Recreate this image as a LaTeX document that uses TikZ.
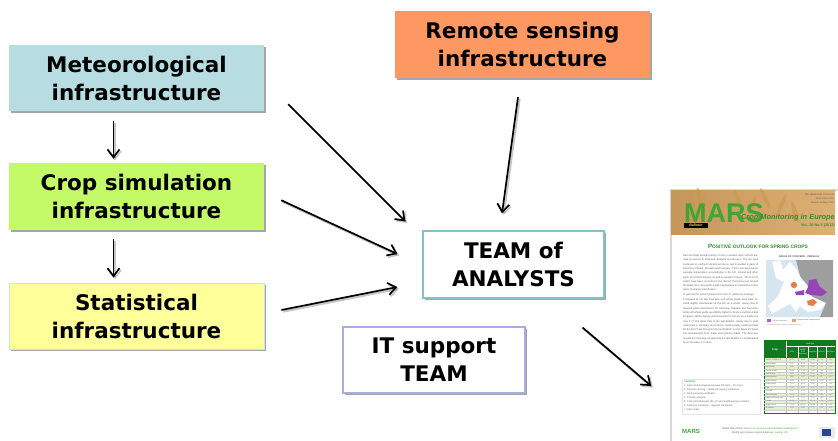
\documentclass[tikz,border=0pt]{standalone}
\usepackage{fontspec}
\setmainfont{Liberation Sans}
\newfontfamily\boxfont{DejaVu Sans}[BoldFont={DejaVu Sans Bold}]
\usetikzlibrary{arrows.meta,shadows,calc}
\definecolor{magreen}{HTML}{3FA535}
\definecolor{tabgreen}{HTML}{0F7A1E}
\tikzset{
  infobox/.style={rectangle,inner sep=0pt,align=center,text=black,
    font=\boxfont\bfseries\fontsize{21.5}{28}\selectfont,
    drop shadow={shadow xshift=2pt,shadow yshift=-2pt,fill=black,opacity=.35}},
  flow/.style={draw=black,line width=1.7pt,-{Straight Barb[length=8pt,width=12pt,line width=1.7pt]},
    preaction={draw=black,opacity=.22,line width=2.2pt,transform canvas={shift={(1.6pt,-1.6pt)}}}},
  tiny/.style={inner sep=0pt,text=black!62,font=\fontsize{2.6}{4.3}\selectfont},
  cell/.style={inner sep=0pt,text=black!60,font=\fontsize{1.9}{2.2}\selectfont},
}
\begin{document}
\begin{tikzpicture}[x=1pt,y=-1pt]
\useasboundingbox (0,0) rectangle (838,440);
% --- main boxes
\node[infobox,fill=cyan!8!black!0,fill={rgb,255:red,183;green,221;blue,227},minimum width=255pt,minimum height=66pt] (met) at (136.5,78) {Meteorological\\infrastructure};
\node[infobox,fill={rgb,255:red,196;green,250;blue,104},minimum width=255pt,minimum height=67pt] (crop) at (136.5,196.5) {Crop simulation\\infrastructure};
\node[infobox,fill={rgb,255:red,255;green,255;blue,153},draw={rgb,255:red,205;green,225;blue,235},line width=.8pt,minimum width=255pt,minimum height=66pt] (stat) at (136.5,316) {Statistical\\infrastructure};
\node[infobox,fill={rgb,255:red,253;green,152;blue,98},minimum width=255pt,minimum height=67pt] (remote) at (522.5,44.5) {Remote sensing\\infrastructure};
\node[infobox,fill=white,draw={rgb,255:red,130;green,195;blue,200},line width=1.1pt,minimum width=181pt,minimum height=67pt] (team) at (513.5,264.5) {TEAM of\\ANALYSTS};
\node[infobox,fill=white,draw={rgb,255:red,170;green,170;blue,228},line width=1.1pt,minimum width=182pt,minimum height=66pt] (it) at (434,360) {IT support\\TEAM};
% --- bulletin page
\node[rectangle,fill=white,draw=black!15,line width=1.4pt,minimum width=170pt,minimum height=260pt,inner sep=0pt] (page) at (756,320) {};
\shade[left color={rgb,255:red,196;green,150;blue,90},middle color={rgb,255:red,244;green,224;blue,170},right color={rgb,255:red,222;green,176;blue,118}] (671,190) rectangle (835,234);
\foreach \x/\y/\r in {738/200/20,752/206/-18,765/198/25,782/204/-22,700/198/15,795/212/18}{
  \fill[rgb color/.style={},color={rgb,255:red,205;green,150;blue,70},opacity=.55,rotate around={\r:(\x,\y)}] (\x,\y) ellipse (2.2 and 11);
}
\node[inner sep=0pt,anchor=west,text=magreen,font=\bfseries\fontsize{27}{27}\selectfont] (mars) at (684,213) {MARS};
\node[fill=black,text={rgb,255:red,240;green,215;blue,70},inner sep=.6pt,minimum width=24pt,minimum height=5pt,font=\bfseries\itshape\fontsize{3.6}{4}\selectfont] (bull) at (696,225) {Bulletin};
\node[inner sep=0pt,anchor=east,text=magreen!85!black,font=\bfseries\itshape\fontsize{7.4}{8}\selectfont] (cme) at (835,217.5) {Crop Monitoring in Europe};
\node[inner sep=0pt,anchor=east,text=magreen!85!black,font=\bfseries\fontsize{3.8}{4}\selectfont] (vol) at (835,226) {Vol. 20 No 5 (2012)};
\node[inner sep=0pt,anchor=north east,align=right,text=black!65,font=\fontsize{2.4}{4}\selectfont] (ref) at (834,194) {JRC 68589 EUR 24736 EN\\ISSN 1831-9793\\Issued: 28 May 2012};
\node[inner sep=0pt,text=magreen!85!black,font=\bfseries\fontsize{6.1}{7}\selectfont] (ptitle) at (758,246) {P\fontsize{4.9}{7}\selectfont OSITIVE OUTLOOK FOR SPRING CROPS};
% body text
\node[tiny,anchor=north west,text width=75pt,align=justify] (body1) at (683,254.5) {April and May brought plenty of rain to western and northern Europe as well as to Romania, Bulgaria and Greece. The dry spell continues in southern Ukraine and more rain is needed in parts of Germany, Poland, Slovakia and Hungary. There has been below average temperature accumulation in the UK, Ireland and other parts of northern Europe as well as western France. The first hot spells have been recorded in the Iberian Peninsula and around the Black Sea, along with a high temperature accumulation in Bulgaria, Romania and Ukraine.\\In general the current prospects for EU 27 yields are average.\par\vspace{1pt}Compared to our last forecasts, soft wheat yields have been revised slightly downwards for the EU as a whole, mainly due to lowered yield expectations for Germany, Bulgaria and Romania, while soft wheat yields are slightly higher for France and the United Kingdom. Winter barley yield forecasts for the EU as a whole are now 2.77 t/ha lower than in the last Bulletin, mainly due to yield reductions in Germany and France. Spring barley yield forecasts for the EU 27 are 5\% up on the last Bulletin, as the figure for Spain has increased by 11\%. Rape seed yield is stable. The decrease in yield for Germany compared to the last Bulletin is compensated by an increase in France.};
% map
\node[inner sep=0pt,text=black!65,font=\bfseries\fontsize{2.5}{3}\selectfont] (mtitle) at (799,257) {AREAS OF CONCERN - CEREALS};
\fill[fill={rgb,255:red,214;green,230;blue,240}] (766,260) rectangle (833,317);
\fill[black!38] (796,260) -- (833,260) -- (833,317) -- (820,317) -- (826,303) -- (811,296) -- (806,284) -- (800,276) -- cycle;
\fill[white] (772,262) -- (780,260) -- (783,270) -- (790,262) -- (797,270) -- (800,277) -- (807,285) -- (812,297) -- (826,303) -- (820,310) -- (808,312) -- (800,306) -- (796,312) -- (790,304) -- (782,308) -- (772,314) -- (768,306) -- (778,296) -- (784,282) -- (776,278) -- cycle;
\fill[fill={rgb,255:red,150;green,70;blue,180}] (809,280) -- (816,279) -- (820,287) -- (827,292) -- (822,296) -- (811,295) -- (805,293) -- (808,287) -- cycle;
\fill[fill={rgb,255:red,150;green,70;blue,180}] (795,292) -- (804,290) -- (804,295) -- (796,295) -- cycle;
\fill[fill={rgb,255:red,232;green,125;blue,75}] (794,285) circle (3.2);
\fill[fill={rgb,255:red,232;green,125;blue,75}] (807,301) -- (813,299) -- (817,302) -- (813,306) -- (808,305) -- cycle;
\fill[fill={rgb,255:red,170;green,100;blue,190}] (767,319) rectangle (771,322);
\fill[fill={rgb,255:red,232;green,160;blue,110}] (792,319) rectangle (796,322);
\node[inner sep=0pt,anchor=west,text=black!60,font=\fontsize{1.9}{2}\selectfont] (leg1) at (772,320.5) {Low soil moisture};
\node[inner sep=0pt,anchor=west,text=black!60,font=\fontsize{1.9}{2}\selectfont] (leg2) at (797,320.5) {Unfavourable temperatures};
\node[inner sep=0pt,anchor=west,text=black!45,font=\fontsize{1.9}{2}\selectfont] (leg3) at (767,325) {Sources: MARS crop monitoring system};
% table
\fill[tabgreen] (764.3,340.7) rectangle (835,358.3);
\foreach \i in {0,2,4,5,8,10,12,14}{\fill[fill={rgb,255:red,226;green,240;blue,208}] (764.3,358.3+\i*3.44) rectangle (835,358.3+\i*3.44+3.44);}
\draw[tabgreen,line width=.5pt] (764.3,340.7) rectangle (835,413.3);
\foreach \x in {786,797.7,808.3,817.3,826}{\draw[black!25,line width=.2pt] (\x,358.3) -- (\x,413.3);\draw[white,line width=.2pt] (\x,346) -- (\x,358.3);}
\foreach \n in {1,...,15}{\draw[black!20,line width=.15pt] (764.3,358.3+\n*3.44) -- (835,358.3+\n*3.44);}
\draw[white,line width=.2pt] (786,340.7) -- (786,358.3);\draw[white,line width=.2pt] (786,346) -- (835,346);
\node[cell,text=white,font=\bfseries\fontsize{2.6}{3}\selectfont] (hcrop) at (775,349.5) {Crop};
\node[cell,text=white] (hy) at (810,343.5) {Yield t/ha};
\node[cell,text=white] (h1) at (792,352) {2011};
\node[cell,text=white,align=center] (h2) at (803,352) {MARS\\2012\\forecasts};
\node[cell,text=white] (h3) at (812.8,352) {Avg 5yrs};
\node[cell,text=white] (h4) at (821.6,352) {\%12/11};
\node[cell,text=white] (h5) at (830.5,352) {\%12/5yrs};
\foreach \i/\c/\a/\b/\d/\e/\f in {0/TOTAL CEREALS/4.71/4.69/4.58/-0.4/+2.4,1/Total Wheat/5.41/5.18/5.04/-4.2/+2.8,2/soft wheat/5.66/5.43/5.26/-4.1/+3.2,3/durum wheat/3.22/3.11/3.08/-3.4/+1.0,4/Total Barley/4.23/4.38/4.30/+3.5/+1.9,5/spring barley/3.66/3.87/3.86/+5.7/+0.3,6/winter barley/4.99/5.02/4.89/+0.6/+2.7,7/Grain maize/7.03/6.91/6.68/-1.7/+3.4,8/Rye/3.30/3.52/3.31/+6.7/+6.3,9/Triticale/3.92/4.13/3.98/+5.4/+3.8,10/Other cereals/2.91/3.06/2.95/+5.2/+3.7,11/Rape and turnip rape/2.91/3.07/3.02/+5.5/+1.7,12/Potato/31.02/28.73/28.70/-7.4/+0.1,13/Sugar beets/72.63/69.15/66.44/-4.8/+4.1,14/Sunflower/1.92/1.86/1.77/-3.1/+5.1}{
  \node[cell,anchor=west] at (765.5,360.02+\i*3.44) {\c};
  \node[cell] at (792,360.02+\i*3.44) {\a};
  \node[cell] at (803,360.02+\i*3.44) {\b};
  \node[cell] at (812.8,360.02+\i*3.44) {\d};
  \node[cell] at (821.6,360.02+\i*3.44) {\e};
  \node[cell] at (830.5,360.02+\i*3.44) {\f};
}
% contents
\draw[black!10,line width=.8pt,fill=white] (682,379) rectangle (760,414);
\node[inner sep=0pt,anchor=west,text=magreen,font=\bfseries\fontsize{2.6}{3}\selectfont] (ctitle) at (684,381.5) {Contents};
\node[tiny,anchor=north west,align=left,font=\fontsize{2.5}{4.15}\selectfont] (clist) at (684,384) {1. Agro-meteorological overview (21 April -- 20 June)\\2. Remote sensing -- observed canopy conditions\\3. Spring sowing conditions\\4. Country analysis\\5. Crop yield forecasts (EU 27 and neighbouring countries)\\6. Pastures in Europe -- regional monitoring\\7. Atlas maps};
% footer
\node[inner sep=0pt,text=magreen,font=\bfseries\fontsize{6}{6}\selectfont] (flogo) at (691,431) {MARS};
\node[inner sep=0pt,align=center,text=black!60,font=\fontsize{2.5}{4}\selectfont] (foot) at (760,431) {MARS BULLETIN: \textcolor{magreen}{www.jrc.ec.europa.eu/mars/bulletins-publications}\\MARS agro-meteorological database: \textcolor{magreen}{marsop.info}};
\fill[black!8] (819,427) rectangle (835,438);
\node[fill={rgb,255:red,40;green,70;blue,140},inner sep=0pt,minimum width=9pt,minimum height=6.5pt] (eu) at (826,432.5) {};
% --- connectors
\draw[flow] ([shift={(-23,10)}]met.south) -- ([shift={(-23,-4)}]crop.north);
\draw[flow] ([shift={(-23,9)}]crop.south) -- ([shift={(-23,-5)}]stat.north);
\draw[flow] ([shift={(24,-7)}]met.south east) -- ([shift={(-17,-9)}]team.north west);
\draw[flow] ([shift={(17,-30)}]crop.south east) -- ([shift={(-25,-10.5)}]team.west);
\draw[flow] ([shift={(17,-6)}]stat.east) -- ([shift={(-25,22.5)}]team.west);
\draw[flow] ([shift={(-4.5,19)}]remote.south) -- ([shift={(-11.5,-17)}]team.north);
\draw[flow] ([shift={(-22,29)}]team.south east) -- ([shift={(-19,66)}]page.west);
\end{tikzpicture}
\end{document}
